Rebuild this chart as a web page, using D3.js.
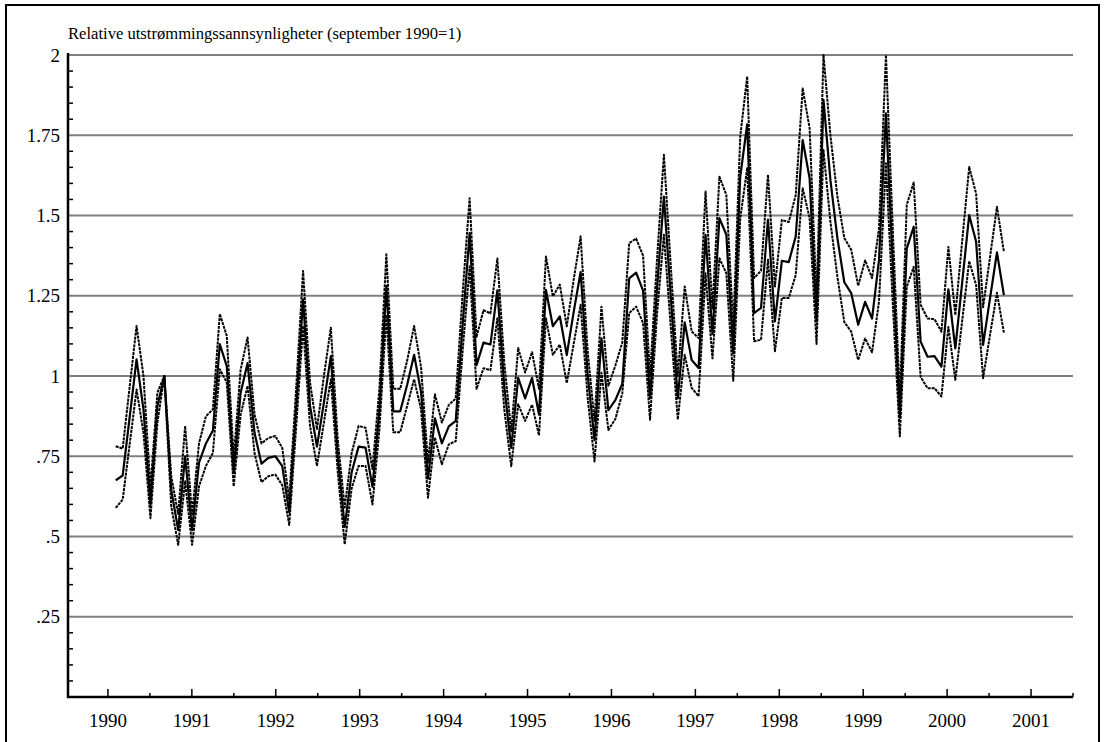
<!DOCTYPE html>
<html>
<head>
<meta charset="utf-8">
<script src="https://cdn.jsdelivr.net/npm/d3@7"></script>
<style>
  body { margin: 0; background: #fff; }
  svg { display: block; }
  text { font-family: "Liberation Serif", "Times New Roman", serif; fill: #000; }
</style>
</head>
<body>
<div id="chart"></div>
<script>
// Monthly series, February 1990 - October 2000
var title = "Relative utstrømmingssannsynligheter (september 1990=1)";
var startYear = 1990, startMonth = 2;

var central = [
  0.675, 0.690, 0.870, 1.052, 0.895, 0.600, 0.906, 1.000, 0.646, 0.520, 0.750,
  0.520, 0.730, 0.790, 0.830, 1.099, 1.031, 0.700, 0.948, 1.040, 0.823, 0.727, 0.745,
  0.750, 0.719, 0.575, 0.900, 1.239, 0.907, 0.780, 0.917, 1.062, 0.750, 0.530, 0.700,
  0.780, 0.777, 0.655, 0.896, 1.280, 0.890, 0.890, 0.973, 1.066, 0.950, 0.680, 0.868,
  0.790, 0.843, 0.860, 1.160, 1.445, 1.034, 1.104, 1.098, 1.267, 0.967, 0.776, 0.994,
  0.930, 0.994, 0.880, 1.268, 1.155, 1.186, 1.065, 1.200, 1.324, 1.008, 0.800, 1.117,
  0.894, 0.925, 0.975, 1.304, 1.322, 1.266, 0.930, 1.270, 1.559, 1.245, 0.930, 1.167,
  1.050, 1.025, 1.440, 1.130, 1.492, 1.440, 1.070, 1.620, 1.784, 1.196, 1.212, 1.487,
  1.170, 1.359, 1.355, 1.435, 1.735, 1.616, 1.170, 1.860, 1.610, 1.430, 1.292, 1.258,
  1.160, 1.231, 1.179, 1.361, 1.818, 1.340, 0.870, 1.397, 1.465, 1.107, 1.060, 1.062,
  1.029, 1.270, 1.086, 1.294, 1.501, 1.418, 1.097, 1.242, 1.385, 1.252
];
var upper = [
  0.781, 0.774, 0.965, 1.156, 1.000, 0.650, 0.948, 1.000, 0.688, 0.570, 0.844,
  0.570, 0.790, 0.875, 0.896, 1.193, 1.125, 0.745, 1.020, 1.120, 0.880, 0.790, 0.807,
  0.813, 0.776, 0.615, 0.960, 1.327, 0.980, 0.835, 1.000, 1.150, 0.800, 0.590, 0.760,
  0.844, 0.839, 0.710, 0.960, 1.379, 0.960, 0.960, 1.048, 1.156, 1.028, 0.730, 0.943,
  0.855, 0.910, 0.930, 1.260, 1.554, 1.122, 1.205, 1.195, 1.366, 1.040, 0.828, 1.087,
  1.011, 1.074, 0.960, 1.372, 1.248, 1.285, 1.155, 1.300, 1.435, 1.081, 0.860, 1.216,
  0.970, 1.032, 1.104, 1.414, 1.428, 1.375, 1.000, 1.360, 1.689, 1.340, 1.000, 1.279,
  1.139, 1.118, 1.575, 1.210, 1.621, 1.564, 1.150, 1.746, 1.933, 1.305, 1.328, 1.627,
  1.279, 1.486, 1.480, 1.564, 1.896, 1.772, 1.240, 2.000, 1.750, 1.560, 1.430, 1.393,
  1.281, 1.360, 1.305, 1.460, 2.000, 1.450, 0.930, 1.533, 1.603, 1.222, 1.179, 1.177,
  1.138, 1.402, 1.190, 1.423, 1.651, 1.568, 1.214, 1.370, 1.527, 1.387
];
var lower = [
  0.589, 0.615, 0.786, 0.958, 0.823, 0.557, 0.854, 1.000, 0.594, 0.474, 0.672,
  0.474, 0.656, 0.720, 0.760, 1.021, 0.980, 0.656, 0.880, 0.969, 0.760, 0.669, 0.688,
  0.693, 0.660, 0.536, 0.840, 1.156, 0.844, 0.720, 0.855, 0.990, 0.700, 0.476, 0.650,
  0.720, 0.720, 0.600, 0.834, 1.190, 0.825, 0.825, 0.907, 0.990, 0.896, 0.621, 0.808,
  0.725, 0.787, 0.797, 1.080, 1.341, 0.960, 1.024, 1.018, 1.180, 0.895, 0.719, 0.912,
  0.860, 0.911, 0.815, 1.180, 1.066, 1.098, 0.978, 1.100, 1.222, 0.935, 0.734, 1.010,
  0.832, 0.866, 0.945, 1.196, 1.216, 1.165, 0.864, 1.190, 1.440, 1.150, 0.864, 1.066,
  0.963, 0.937, 1.320, 1.055, 1.367, 1.320, 0.985, 1.490, 1.647, 1.108, 1.113, 1.362,
  1.077, 1.243, 1.243, 1.315, 1.585, 1.492, 1.100, 1.704, 1.480, 1.310, 1.168, 1.138,
  1.050, 1.117, 1.074, 1.232, 1.663, 1.220, 0.812, 1.278, 1.340, 0.997, 0.962, 0.962,
  0.936, 1.153, 0.988, 1.174, 1.358, 1.283, 0.993, 1.128, 1.259, 1.135
];

var yTicks = [0.25, 0.5, 0.75, 1, 1.25, 1.5, 1.75, 2];
var yTickLabels = [".25", ".5", ".75", "1", "1.25", "1.5", "1.75", "2"];
var xTicks = d3.range(1990, 2002);

var W = 1105, H = 742;
var margin = { top: 55, left: 68, right: 32, bottom: 45 };
var width = W - margin.left - margin.right;
var height = H - margin.top - margin.bottom;

var svg = d3.select("#chart").append("svg")
    .attr("width", W)
    .attr("height", H);

// outer frame
svg.append("rect")
    .attr("x", 6).attr("y", 5)
    .attr("width", 1093).attr("height", 745)
    .attr("fill", "none")
    .attr("stroke", "#000")
    .attr("stroke-width", 2);

svg.append("text")
    .attr("x", margin.left)
    .attr("y", 39)
    .attr("font-size", "16.6px")
    .text(title);

var g = svg.append("g")
    .attr("transform", "translate(" + margin.left + "," + margin.top + ")");

// axis scale for the year ticks
var xScale = d3.scaleLinear().domain([1989.524, 2001.5]).range([0, width]);
// the monthly observations sit slightly compressed against the year ticks in the original
var xData = d3.scaleLinear().domain([1989.51, 2001.58]).range([0, width]);
var yScale = d3.scaleLinear().domain([0, 2]).range([height, 0]);

var dates = central.map(function(d, i) {
    return startYear + (startMonth - 2 + i + 1) / 12;
});

// gridlines
g.selectAll(".grid")
    .data(yTicks)
    .enter().append("line")
    .attr("x1", 0).attr("x2", width)
    .attr("y1", function(d) { return yScale(d); })
    .attr("y2", function(d) { return yScale(d); })
    .attr("stroke", "#808080")
    .attr("stroke-width", 2);

// y labels
g.selectAll(".ylab")
    .data(yTicks)
    .enter().append("text")
    .attr("x", -8)
    .attr("y", function(d) { return yScale(d); })
    .attr("dy", "0.35em")
    .attr("text-anchor", "end")
    .attr("font-size", "19px")
    .text(function(d, i) { return yTickLabels[i]; });

// y minor ticks every .05
var yMinor = d3.range(1, 40).filter(function(k) { return k % 5 !== 0; })
    .map(function(k) { return k * 0.05; });
g.selectAll(".ymin")
    .data(yMinor)
    .enter().append("line")
    .attr("x1", 0).attr("x2", 5)
    .attr("y1", function(d) { return yScale(d); })
    .attr("y2", function(d) { return yScale(d); })
    .attr("stroke", "#000")
    .attr("stroke-width", 1.5);

// x ticks
g.selectAll(".xmaj")
    .data(xTicks)
    .enter().append("line")
    .attr("x1", function(d) { return xScale(d); })
    .attr("x2", function(d) { return xScale(d); })
    .attr("y1", height).attr("y2", height - 8)
    .attr("stroke", "#000")
    .attr("stroke-width", 1.5);

g.selectAll(".xmin")
    .data(d3.range(1990.5, 2001.6, 1))
    .enter().append("line")
    .attr("x1", function(d) { return xScale(d); })
    .attr("x2", function(d) { return xScale(d); })
    .attr("y1", height).attr("y2", height - 4)
    .attr("stroke", "#000")
    .attr("stroke-width", 1.5);

g.selectAll(".xlab")
    .data(xTicks)
    .enter().append("text")
    .attr("x", function(d) { return xScale(d); })
    .attr("y", height + 30)
    .attr("text-anchor", "middle")
    .attr("font-size", "19px")
    .text(function(d) { return d; });

// axis lines
g.append("line")
    .attr("x1", 0).attr("x2", 0)
    .attr("y1", -2).attr("y2", height + 1)
    .attr("stroke", "#000").attr("stroke-width", 2.5);
g.append("line")
    .attr("x1", -1).attr("x2", width)
    .attr("y1", height).attr("y2", height)
    .attr("stroke", "#000").attr("stroke-width", 2.5);

// lines
var line = d3.line()
    .x(function(d, i) { return xData(dates[i]); })
    .y(function(d) { return yScale(d); });

[upper, lower].forEach(function(series) {
    g.append("path")
        .datum(series)
        .attr("d", line)
        .attr("fill", "none")
        .attr("stroke", "#000")
        .attr("stroke-width", 2)
        .attr("stroke-dasharray", "3,0.9")
        .attr("stroke-linejoin", "round");
});

g.append("path")
    .datum(central)
    .attr("d", line)
    .attr("fill", "none")
    .attr("stroke", "#000")
    .attr("stroke-width", 2.2)
    .attr("stroke-linejoin", "round");
</script>
</body>
</html>
